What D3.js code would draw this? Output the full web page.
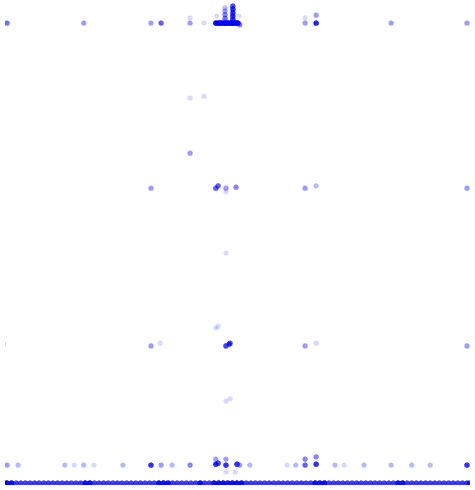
<!DOCTYPE html>
<html>
<head>
<meta charset="utf-8">
<script src="https://cdn.jsdelivr.net/npm/d3@7"></script>
<style>
  html, body { margin: 0; padding: 0; background: #ffffff; }
  svg { display: block; }
</style>
</head>
<body>
<div id="chart"></div>
<script>
// Scattered points: x, y and how many observations share the spot
const pointX = [0,16.7,31.3,33.5,39.8,39.8,42.8,
  45.4,45.9,46.3,46.7,47.2,47.6,48.0,48.5,48.9,49.3,49.8,50.2,50.6,45.6,50.4,
  47.4,47.4,47.4,47.4,49.1,49.1,49.1,49.1,49.1,
  64.8,64.8,67.2,67.2,83.5,100,
  39.8,42.8,39.8,
  31.3,45.4,45.9,47.6,47.6,49.8,64.8,67.2,100,
  47.6,45.4,45.9,
  -0.7,31.3,33.3,47.6,48.3,48.5,64.8,67.2,100,
  47.6,48.5,
  0,2.4,12.6,14.6,16.7,18.9,25.2,31.3,33.5,35.9,39.8,45.4,45.9,45.4,47.6,47.6,47.6,49.6,50.0,50.6,52.8,60.9,62.8,64.8,64.8,67.2,67.2,71.3,73.3,77.6,83.5,88,92,100];
const pointY = [100,100,100,100,100,101.1,100,
  100,100,100,100,100,100,100,100,100,100,100,100,99.6,101.5,101.5,
  103.3,102.6,101.8,101,103.7,103,102.2,101.5,100.8,
  100,101.1,100,101.7,100,100,
  83.7,84.1,71.7,
  64.1,64.1,64.6,64.1,63.3,64.3,64.1,64.6,64.1,
  50,33.7,34.1,
  30.2,29.8,30.4,29.8,30.2,30.4,29.8,30.4,29.8,
  17.8,18.3,
  3.9,3.9,3.9,3.9,3.9,3.9,3.9,3.9,3.9,3.9,3.9,4.1,4.3,5.2,5.2,3.9,2.4,2.4,4.1,3.9,3.9,3.9,3.9,5.2,3.9,5.7,4.1,3.9,3.9,3.9,3.9,3.9,3.9,3.9];
const pointN = [5,3,3,6,3,1,1,
  16,18,18,18,18,20,18,18,20,20,18,16,4,1,1,
  2,3,4,5,8,10,10,10,10,
  3,1,12,3,3,3,
  1,1,3,
  3,6,6,3,1,4,3,2,3,
  1,1,1,
  1,3,1,8,8,6,3,1,3,
  1,1,
  3,2,2,1,2,1,2,10,3,2,4,10,8,3,3,10,1,1,10,3,2,1,2,4,6,4,10,2,1,2,2,2,2,10];

// Observations lying on the bottom edge (y = 0)
const bottomX = [-0.5,0,1,2,3,4,5,6,7,8,9,10,11,12,13,14,15,16,17,18,19,20,21,22,23,24,25,26,27,28,29,30,
  31,32,33,34,35,36,37,38,39,40,41,42,43,44,45,46,47,48,49,50,51,52,53,54,55,56,57,58,59,60,
  61,62,63,64,65,66,67,68,69,70,71,72,73,74,75,76,77,78,79,80,81,82,83,84,85,86,87,88,89,90,
  91,92,93,94,95,96,97,98,99,100,100.5];
const bottomN = [9,18,18,9,9,9,9,9,9,9,9,9,9,9,9,9,9,9,18,18,9,9,9,9,9,9,9,9,9,9,9,9,
  9,9,18,18,18,9,9,9,9,9,9,18,9,9,18,18,18,18,18,18,18,9,9,9,9,9,9,9,9,9,
  9,9,9,9,9,9,18,18,18,9,9,9,9,9,9,9,9,9,9,9,9,9,9,9,18,18,9,9,9,9,
  9,9,9,9,9,9,9,9,9,9,9];

const W = 475, H = 490;
const x = d3.scaleLinear().domain([0, 100]).range([7, 467]);
const y = d3.scaleLinear().domain([0, 100]).range([483, 23]);

const obs = [];
pointX.forEach((v, i) => { for (let k = 0; k < pointN[i]; k++) obs.push({x: v, y: pointY[i]}); });
bottomX.forEach((v, i) => { for (let k = 0; k < bottomN[i]; k++) obs.push({x: v, y: 0}); });

const svg = d3.select("#chart").append("svg").attr("width", W).attr("height", H);
svg.append("defs").append("clipPath").attr("id", "clip")
  .append("rect").attr("x", 5).attr("y", 0).attr("width", 465).attr("height", 485);

svg.append("g").attr("clip-path", "url(#clip)")
  .selectAll("circle").data(obs).join("circle")
  .attr("cx", d => x(d.x))
  .attr("cy", d => y(d.y))
  .attr("r", 2.6)
  .attr("fill", "blue")
  .attr("fill-opacity", 0.15);
</script>
</body>
</html>
